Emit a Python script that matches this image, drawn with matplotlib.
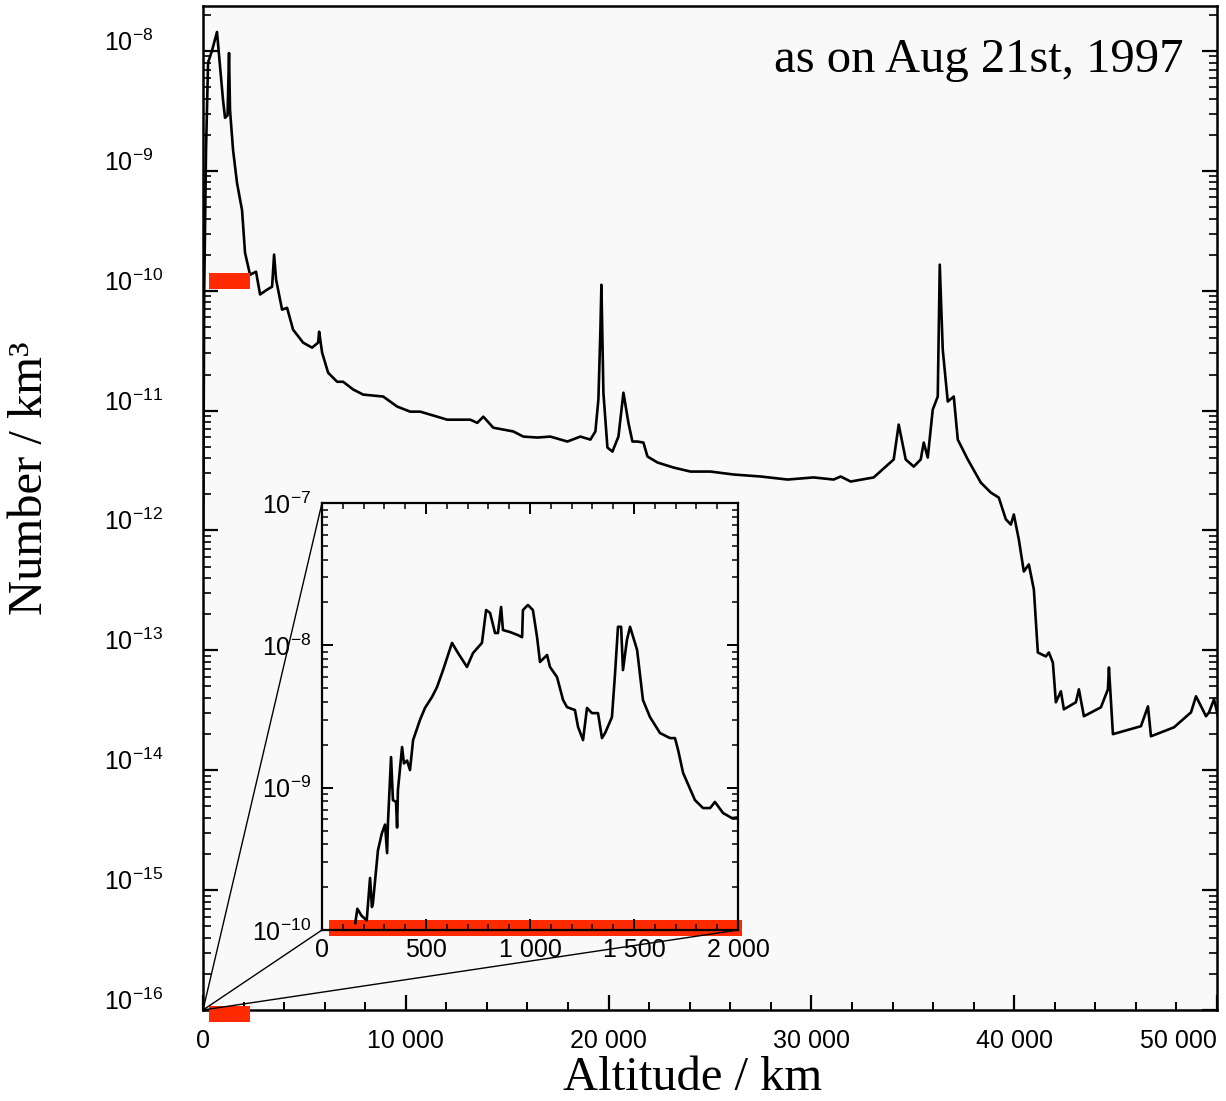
import matplotlib
matplotlib.use("Agg")
import matplotlib.pyplot as plt
from matplotlib.patches import Rectangle, ConnectionPatch
from matplotlib.ticker import FixedLocator, MultipleLocator, LogLocator, NullFormatter, FixedFormatter
import matplotlib.transforms as mtransforms

plt.rcParams['font.family'] = ['Liberation Sans', 'DejaVu Sans']
plt.rcParams['mathtext.fontset'] = 'custom'
plt.rcParams['mathtext.rm'] = 'Liberation Sans'
plt.rcParams['mathtext.it'] = 'Liberation Sans'

# ---------------- data ----------------
alt_main = [10, 60, 150, 250, 440, 690, 987, 1086, 1210, 1283, 1333, 1481, 1678, 1925, 2073, 2320,
            2616, 2814, 3159, 3406, 3505, 3603, 3899, 4146, 4442, 4936, 5380, 5676, 5726, 5874,
            6170, 6614, 6910, 7404, 7898, 8885, 9576, 10218, 10711, 11698, 12044, 13179, 13525,
            13821, 14314, 14808, 15302, 15795, 16486, 17128, 17967, 18609, 19102, 19349, 19497,
            19596, 19645, 19744, 19942, 20189, 20485, 20731, 20978, 21175, 21422, 21718, 21916,
            22410, 23199, 24038, 25026, 26161, 27494, 28826, 30110, 31097, 31443, 31936, 33071,
            33664, 34058, 34305, 34651, 35046, 35391, 35539, 35737, 35984, 36230, 36329, 36477,
            36724, 37020, 37218, 37711, 38353, 38847, 39241, 39587, 39834, 39982, 40228, 40475,
            40722, 40969, 41166, 41561, 41709, 41907, 42055, 42302, 42450, 43042, 43190, 43437,
            44276, 44621, 44671, 44868, 46250, 46596, 46744, 47879, 48718, 48965, 49212, 49459,
            49607, 49854, 50052]
dens_main = [1e-12, 1e-10, 1.5e-9, 8e-9, 1.0e-8, 1.44e-8, 3.9e-9, 2.77e-9, 2.9e-9, 9.6e-9, 3.2e-9,
             1.5e-9, 7.9e-10, 4.7e-10, 2.07e-10, 1.36e-10, 1.44e-10, 9.3e-11, 1.02e-10, 1.08e-10,
             2.0e-10, 1.24e-10, 6.95e-11, 7.2e-11, 4.73e-11, 3.69e-11, 3.35e-11, 3.69e-11, 4.55e-11,
             3.04e-11, 2.07e-11, 1.74e-11, 1.74e-11, 1.5e-11, 1.36e-11, 1.31e-11, 1.08e-11, 9.8e-12,
             9.8e-12, 8.75e-12, 8.4e-12, 8.4e-12, 7.9e-12, 8.9e-12, 7.2e-12, 6.95e-12, 6.7e-12,
             6.07e-12, 5.96e-12, 6.07e-12, 5.52e-12, 6.07e-12, 5.73e-12, 6.7e-12, 1.24e-11, 4.7e-11,
             1.12e-10, 1.41e-11, 4.92e-12, 4.55e-12, 6.07e-12, 1.41e-11, 7.9e-12, 5.52e-12, 5.52e-12,
             5.41e-12, 4.14e-12, 3.69e-12, 3.35e-12, 3.1e-12, 3.1e-12, 2.93e-12, 2.82e-12, 2.66e-12,
             2.77e-12, 2.66e-12, 2.82e-12, 2.56e-12, 2.77e-12, 3.41e-12, 3.91e-12, 7.64e-12, 3.91e-12,
             3.41e-12, 3.91e-12, 5.41e-12, 4.06e-12, 1.02e-11, 1.31e-11, 1.65e-10, 3.22e-11, 1.19e-11,
             1.31e-11, 5.73e-12, 3.91e-12, 2.51e-12, 2.07e-12, 1.88e-12, 1.24e-12, 1.12e-12, 1.36e-12,
             8.4e-13, 4.55e-13, 5.21e-13, 3.22e-13, 9.6e-14, 8.9e-14, 9.6e-14, 7.9e-14, 3.69e-14,
             4.55e-14, 3.22e-14, 3.69e-14, 4.73e-14, 2.82e-14, 3.35e-14, 4.73e-14, 7.2e-14, 2.0e-14,
             2.33e-14, 3.41e-14, 1.92e-14, 2.28e-14, 3.04e-14, 4.14e-14, 3.41e-14, 2.82e-14, 3.04e-14,
             3.91e-14, 2.82e-14]

alt_inset = [160, 170, 190, 215, 231, 240, 245, 269, 288, 303, 313, 317, 332, 341, 356, 361, 365,
             385, 394, 409, 423, 438, 471, 495, 529, 553, 582, 625, 654, 697, 726, 769, 789, 808,
             832, 846, 861, 870, 904, 942, 962, 966, 990, 1014, 1034, 1048, 1082, 1096, 1130, 1159,
             1178, 1216, 1231, 1255, 1274, 1298, 1327, 1346, 1361, 1394, 1409, 1423, 1438, 1447,
             1466, 1481, 1515, 1543, 1577, 1625, 1673, 1697, 1712, 1736, 1793, 1832, 1866, 1889,
             1928, 1971, 1995]
dens_inset = [1.12e-10, 1.41e-10, 1.26e-10, 1.17e-10, 2.32e-10, 1.45e-10, 1.55e-10, 3.63e-10,
              4.79e-10, 5.5e-10, 3.47e-10, 5.62e-10, 1.64e-9, 8.18e-10, 7.94e-10, 5.25e-10, 9.6e-10,
              1.93e-9, 1.48e-9, 1.55e-9, 1.33e-9, 2.16e-9, 2.99e-9, 3.63e-9, 4.34e-9, 5.09e-9, 6.7e-9,
              1.04e-8, 8.83e-9, 7.05e-9, 8.83e-9, 1.04e-8, 1.77e-8, 1.69e-8, 1.22e-8, 1.22e-8, 1.86e-8,
              1.28e-8, 1.24e-8, 1.18e-8, 1.14e-8, 1.77e-8, 1.92e-8, 1.77e-8, 1.14e-8, 7.64e-9, 8.55e-9,
              7.05e-9, 5.98e-9, 4.13e-9, 3.68e-9, 3.51e-9, 2.67e-9, 2.16e-9, 3.63e-9, 3.34e-9, 3.34e-9,
              2.23e-9, 2.42e-9, 3.13e-9, 6.38e-9, 1.35e-8, 1.35e-8, 6.7e-9, 1.09e-8, 1.35e-8, 9.27e-9,
              4.13e-9, 3.13e-9, 2.42e-9, 2.23e-9, 2.23e-9, 1.84e-9, 1.27e-9, 8.18e-10, 7.19e-10,
              7.19e-10, 7.94e-10, 6.64e-10, 6.11e-10, 6.17e-10]

main_xticks = [0, 10000, 20000, 30000, 40000, 50000]
main_xticklabels = ['0', '10 000', '20 000', '30 000', '40 000', '50 000']
main_yexp = [-16, -15, -14, -13, -12, -11, -10, -9, -8]
inset_xticks = [0, 500, 1000, 1500, 2000]
inset_xticklabels = ['0', '500', '1 000', '1 500', '2 000']
inset_yexp = [-10, -9, -8, -7]
leo_band = [300, 2320]          # red highlight range (km)

assert len(alt_main) == len(dens_main), (len(alt_main), len(dens_main))
assert len(alt_inset) == len(dens_inset), (len(alt_inset), len(dens_inset))

# ---------------- figure ----------------
W, H = 1226, 1101
fig = plt.figure(figsize=(W / 100, H / 100), dpi=100)
fig.patch.set_facecolor('white')

def frac(x0, y0, x1, y1):
    return [x0 / W, 1 - y1 / H, (x1 - x0) / W, (y1 - y0) / H]

bg = '#f9f9f9'
ax = fig.add_axes(frac(203, 6, 1217, 1010))
ax.set_facecolor(bg)
ax.set_yscale('log')
ax.set_xlim(0, 50000)
ax.set_ylim(1e-16, 10 ** -7.625)
ax.plot(alt_main, dens_main, color='black', lw=1.9, solid_joinstyle='round')

ax.xaxis.set_major_locator(FixedLocator(main_xticks))
ax.xaxis.set_major_formatter(FixedFormatter(main_xticklabels))
ax.xaxis.set_minor_locator(MultipleLocator(2000))
ax.yaxis.set_major_locator(FixedLocator([10.0 ** e for e in main_yexp]))
ax.yaxis.set_major_formatter(FixedFormatter([r'$\mathregular{10^{%d}}$' % e for e in main_yexp]))
ax.yaxis.set_minor_locator(LogLocator(base=10, subs=range(2, 10), numticks=30))
ax.yaxis.set_minor_formatter(NullFormatter())
ax.tick_params(axis='both', which='both', direction='in', color='black')
ax.tick_params(axis='x', which='major', length=11, width=1.6, labelsize=18, pad=14, top=False)
ax.tick_params(axis='x', which='minor', length=6, width=1.4, top=False)
ax.tick_params(axis='y', which='major', length=11, width=1.6, labelsize=18, pad=71, right=True)
ax.tick_params(axis='y', which='minor', length=6, width=1.2, right=True)
for t in ax.yaxis.get_major_ticks():
    t.label1.set_horizontalalignment('left')
    t.label1.set_verticalalignment('baseline')
ax.xaxis.get_major_ticks()[-1].label1.set_horizontalalignment('right')
for s in ax.spines.values():
    s.set_linewidth(1.8)

# red highlight bars on main axes
ax.add_patch(Rectangle((leo_band[0], 1.04e-10), leo_band[1] - leo_band[0], 1.41e-10 - 1.04e-10,
                       facecolor='#ff2a00', edgecolor='none', zorder=5))
tb = mtransforms.blended_transform_factory(ax.transData, ax.transAxes)
ax.add_patch(Rectangle((leo_band[0], -0.012), leo_band[1] - leo_band[0], 0.016,
                       transform=tb, facecolor='#ff2a00', edgecolor='none', clip_on=False, zorder=5))

# ---------------- inset ----------------
ins = fig.add_axes(frac(322, 503, 738, 930))
ins.set_facecolor(bg)
ins.set_yscale('log')
ins.set_xlim(0, 2000)
ins.set_ylim(1e-10, 1e-7)
ins.plot(alt_inset, dens_inset, color='black', lw=1.9, solid_joinstyle='round')
ins.xaxis.set_major_locator(FixedLocator(inset_xticks))
ins.xaxis.set_major_formatter(FixedFormatter(inset_xticklabels))
ins.xaxis.set_minor_locator(MultipleLocator(100))
ins.yaxis.set_major_locator(FixedLocator([10.0 ** e for e in inset_yexp]))
ins.yaxis.set_major_formatter(FixedFormatter([r'$\mathregular{10^{%d}}$' % e for e in inset_yexp]))
ins.yaxis.set_minor_locator(LogLocator(base=10, subs=range(2, 10), numticks=30))
ins.yaxis.set_minor_formatter(NullFormatter())
ins.tick_params(axis='both', which='both', direction='in', top=True, right=True, color='black')
ins.tick_params(axis='both', which='major', length=8, width=1.4, labelsize=18)
ins.tick_params(axis='x', which='major', pad=6)
ins.tick_params(axis='y', which='major', pad=8)
ins.tick_params(axis='both', which='minor', length=4, width=1.1)
for s in ins.spines.values():
    s.set_linewidth(1.6)
tbi = mtransforms.blended_transform_factory(ins.transData, ins.transAxes)
ins.add_patch(Rectangle((35, -0.014), 2020 - 35, 0.037, transform=tbi,
                        facecolor='#ff2a00', edgecolor='none', clip_on=False, zorder=1.5))

# zoom connector lines
for corner in [(0, 1), (0, 0), (1, 0)]:
    cp = ConnectionPatch(xyA=corner, coordsA=ins.transAxes, xyB=(0, 1e-16), coordsB=ax.transData,
                         color='black', lw=1.0, zorder=3)
    fig.add_artist(cp)

# ---------------- texts ----------------
serif = ['Liberation Serif', 'DejaVu Serif']
fig.text(1183 / W, 1 - 60 / H, 'as on Aug 21st, 1997', family=serif, fontsize=35,
         ha='right', va='center')
fig.text(693 / W, 1 - 1078 / H, 'Altitude / km', family=serif, fontsize=35, ha='center', va='center')
fig.text(30 / W, 1 - 478 / H, 'Number / km³', family=serif, fontsize=35, ha='center', va='center',
         rotation=90)

fig.savefig('out.png', dpi=100, facecolor='white')
